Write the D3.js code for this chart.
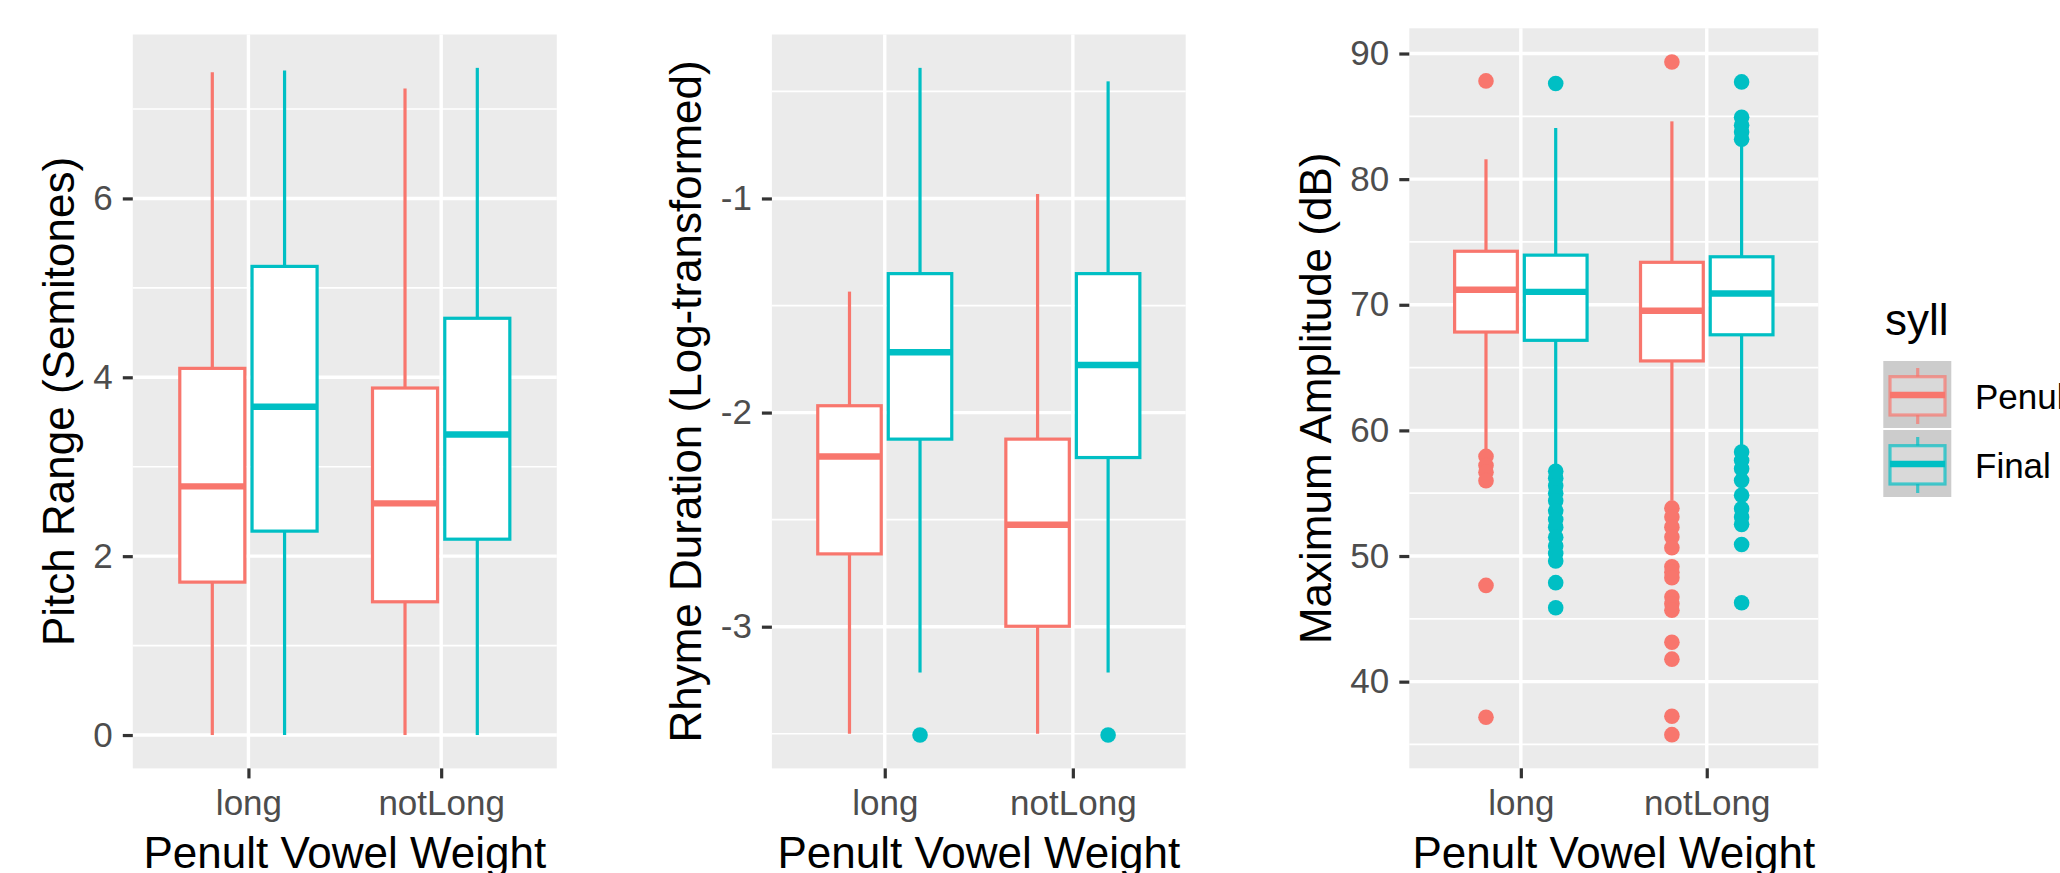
<!DOCTYPE html>
<html>
<head>
<meta charset="utf-8">
<script src="https://cdn.jsdelivr.net/npm/d3@7"></script>
<style>
  body { margin: 0; background: #fff; }
  svg { display: block; font-family: "Liberation Sans", Arial, sans-serif; }
</style>
</head>
<body>
<script>
// categories / series
const groups = ["long", "notLong"];
const sylls = ["Penult", "Final"];
const colors = ["#F8766D", "#00BFC4"];

// box stats: [lower whisker, q1, median, q3, upper whisker]
// order: long-Penult, long-Final, notLong-Penult, notLong-Final
const pitchStats = [
  [0, 1.71, 2.78, 4.10, 7.41],
  [0, 2.28, 3.67, 5.24, 7.43],
  [0, 1.49, 2.59, 3.88, 7.23],
  [0, 2.19, 3.36, 4.66, 7.46]
];
const pitchOutliers = [[], [], [], []];

const rhymeStats = [
  [-3.50, -2.66, -2.205, -1.968, -1.435],
  [-3.214, -2.124, -1.718, -1.351, -0.39],
  [-3.50, -2.998, -2.524, -2.124, -0.979],
  [-3.214, -2.21, -1.778, -1.351, -0.453]
];
const rhymeOutliers = [[], [-3.506], [], [-3.506]];

const ampStats = [
  [58.5, 67.83, 71.2, 74.26, 81.58],
  [57.3, 67.17, 71.03, 73.95, 84.07],
  [54.4, 65.53, 69.52, 73.38, 84.6],
  [58.7, 67.61, 70.9, 73.82, 82.8]
];
const ampOutliers = [
  [87.82, 57.93, 57.2, 56.67, 56.0, 47.66, 37.17],
  [87.61, 56.74, 56.2, 55.6, 55.0, 54.4, 53.6, 52.9, 52.3, 51.5, 50.8, 50.2, 49.6, 47.88, 45.88],
  [89.33, 53.81, 53.1, 52.3, 51.51, 50.66, 49.15, 48.7, 48.27, 46.73, 46.2, 45.69, 43.14, 41.79, 37.25, 35.78],
  [87.74, 84.93, 84.29, 83.76, 83.18, 58.28, 57.61, 56.95, 56.02, 54.83, 53.77, 53.1, 52.52, 50.92, 46.28]
];

// tick labels
const pitchTicks = [0, 2, 4, 6], pitchMinor = [1, 3, 5, 7];
const rhymeTicks = [-3, -2, -1], rhymeMinor = [-3.5, -2.5, -1.5, -0.5];
const ampTicks = [40, 50, 60, 70, 80, 90], ampMinor = [35, 45, 55, 65, 75, 85];

const xTitle = "Penult Vowel Weight";
const legendTitle = "syll";

const W = 2060, H = 873;
const svg = d3.select("body").append("svg").attr("width", W).attr("height", H);

const panels = [
  { stats: pitchStats, outliers: pitchOutliers, ticks: pitchTicks, minor: pitchMinor,
    title: "Pitch Range (Semitones)", x0: 132.8, x1: 556.8, y0: 34.5, y1: 768.4, titleX: 74 },
  { stats: rhymeStats, outliers: rhymeOutliers, ticks: rhymeTicks, minor: rhymeMinor,
    title: "Rhyme Duration (Log-transformed)", x0: 771.9, x1: 1185.7, y0: 34.5, y1: 768.4, titleX: 701 },
  { stats: ampStats, outliers: ampOutliers, ticks: ampTicks, minor: ampMinor,
    title: "Maximum Amplitude (dB)", x0: 1409.3, x1: 1818.3, y0: 28.3, y1: 768.3, titleX: 1331 }
];

panels.forEach(p => {
  const vals = p.stats.flat().concat(p.outliers.flat());
  const lo = d3.min(vals), hi = d3.max(vals), pad = (hi - lo) * 0.05;
  const y = d3.scaleLinear().domain([lo - pad, hi + pad]).range([p.y1, p.y0]);
  const x = d3.scalePoint().domain(groups).range([p.x0, p.x1]).padding(0.6);
  const unit = x.step();
  const g = svg.append("g");

  g.append("rect")
    .attr("x", p.x0).attr("y", p.y0)
    .attr("width", p.x1 - p.x0).attr("height", p.y1 - p.y0)
    .attr("fill", "#EBEBEB");

  const [dlo, dhi] = y.domain();
  g.selectAll(".minor").data(p.minor.filter(v => v >= dlo && v <= dhi)).enter()
    .append("line")
    .attr("x1", p.x0).attr("x2", p.x1)
    .attr("y1", d => y(d)).attr("y2", d => y(d))
    .attr("stroke", "#fff").attr("stroke-width", 1.7);
  g.selectAll(".major").data(p.ticks).enter()
    .append("line")
    .attr("x1", p.x0).attr("x2", p.x1)
    .attr("y1", d => y(d)).attr("y2", d => y(d))
    .attr("stroke", "#fff").attr("stroke-width", 3.4);
  g.selectAll(".vmajor").data(groups).enter()
    .append("line")
    .attr("x1", d => x(d)).attr("x2", d => x(d))
    .attr("y1", p.y0).attr("y2", p.y1)
    .attr("stroke", "#fff").attr("stroke-width", 3.4);

  p.stats.forEach((s, i) => {
    const gi = Math.floor(i / 2), si = i % 2;
    const cx = x(groups[gi]) + (si === 0 ? -1 : 1) * 0.1875 * unit;
    const hw = 0.3375 * unit / 2;
    const col = colors[si];
    const [wl, q1, md, q3, wu] = s;
    g.append("line").attr("x1", cx).attr("x2", cx).attr("y1", y(q3)).attr("y2", y(wu))
      .attr("stroke", col).attr("stroke-width", 3.2);
    g.append("line").attr("x1", cx).attr("x2", cx).attr("y1", y(q1)).attr("y2", y(wl))
      .attr("stroke", col).attr("stroke-width", 3.2);
    g.append("rect").attr("x", cx - hw).attr("y", y(q3))
      .attr("width", 2 * hw).attr("height", y(q1) - y(q3))
      .attr("fill", "#fff").attr("stroke", col).attr("stroke-width", 3.2);
    g.append("line").attr("x1", cx - hw).attr("x2", cx + hw).attr("y1", y(md)).attr("y2", y(md))
      .attr("stroke", col).attr("stroke-width", 6.4);
    g.selectAll(null).data(p.outliers[i]).enter()
      .append("circle")
      .attr("cx", cx).attr("cy", d => y(d)).attr("r", 7.8)
      .attr("fill", col);
  });

  const yAxis = d3.axisLeft(y).tickValues(p.ticks).tickSize(10).tickPadding(10).tickFormat(d => String(d));
  const ya = g.append("g").attr("transform", `translate(${p.x0},0)`).call(yAxis);
  const xAxis = d3.axisBottom(x).tickSize(10).tickPadding(12);
  const xa = g.append("g").attr("transform", `translate(0,${p.y1})`).call(xAxis);
  [ya, xa].forEach(a => {
    a.select(".domain").remove();
    a.selectAll(".tick line").attr("stroke", "#333").attr("stroke-width", 3.2);
    a.selectAll(".tick text").attr("fill", "#4D4D4D")
      .attr("font-size", 35).attr("font-family", "Liberation Sans, Arial, sans-serif");
  });

  g.append("text")
    .attr("transform", `translate(${p.titleX},${(p.y0 + p.y1) / 2}) rotate(-90)`)
    .attr("text-anchor", "middle").attr("font-size", 44).attr("fill", "#000")
    .text(p.title);
  g.append("text")
    .attr("x", (p.x0 + p.x1) / 2).attr("y", 868)
    .attr("text-anchor", "middle").attr("font-size", 44).attr("fill", "#000")
    .text(xTitle);
});

// legend
const lg = svg.append("g");
lg.append("text").attr("x", 1885).attr("y", 335).attr("font-size", 44).attr("fill", "#000").text(legendTitle);
sylls.forEach((s, i) => {
  const kx = 1883.3, ky = 361 + i * 69, kw = 68, kh = 67;
  const col = colors[i];
  const cx = kx + 34.4;
  lg.append("rect").attr("x", kx).attr("y", ky).attr("width", kw).attr("height", kh).attr("fill", "#CCCCCC");
  lg.append("line").attr("x1", cx).attr("x2", cx).attr("y1", ky + 7).attr("y2", ky + 15.7)
    .attr("stroke", col).attr("stroke-opacity", 0.7).attr("stroke-width", 3.2);
  lg.append("line").attr("x1", cx).attr("x2", cx).attr("y1", ky + 54).attr("y2", ky + 63)
    .attr("stroke", col).attr("stroke-opacity", 0.7).attr("stroke-width", 3.2);
  lg.append("rect").attr("x", kx + 6.7).attr("y", ky + 15.7).attr("width", 55).attr("height", 38.3)
    .attr("fill", "#fff").attr("fill-opacity", 0.25)
    .attr("stroke", col).attr("stroke-opacity", 0.7).attr("stroke-width", 3.2);
  lg.append("line").attr("x1", kx + 6.7).attr("x2", kx + 61.7).attr("y1", ky + 34).attr("y2", ky + 34)
    .attr("stroke", col).attr("stroke-width", 6.4);
  lg.append("text").attr("x", 1975).attr("y", ky + 48.3).attr("font-size", 35).attr("fill", "#000").text(s);
});
</script>
</body>
</html>
